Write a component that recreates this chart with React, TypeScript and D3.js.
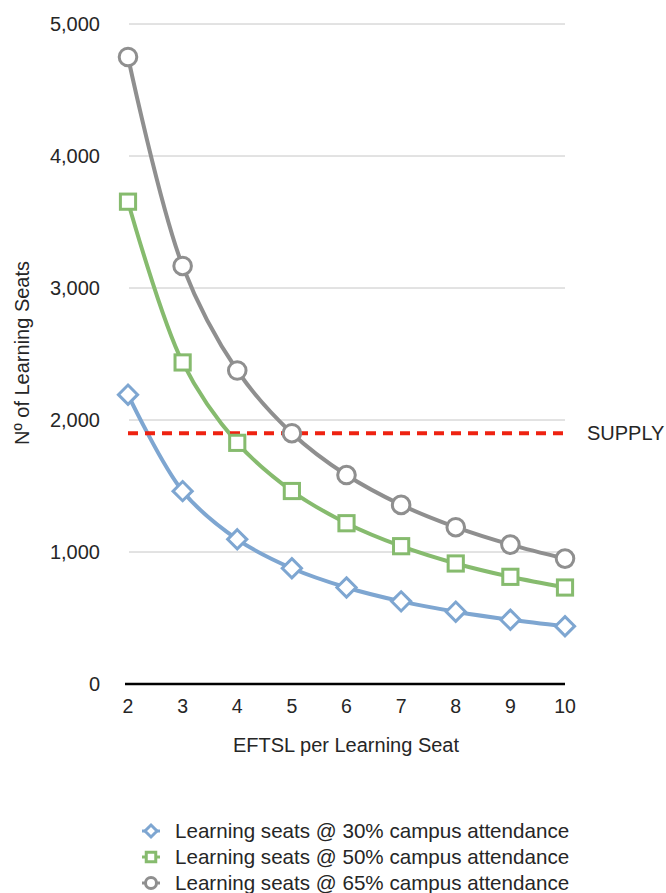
import React from "react";
import * as d3 from "d3";

const xValues = [2, 3, 4, 5, 6, 7, 8, 9, 10];
const seats30 = [2192, 1461, 1096, 877, 731, 626, 548, 487, 438];
const seats50 = [3654, 2436, 1827, 1462, 1218, 1044, 913, 812, 731];
const seats65 = [4750, 3167, 2375, 1900, 1583, 1357, 1188, 1056, 950];
const supplyValue = 1900;
const yTicks = [0, 1000, 2000, 3000, 4000, 5000];
const seriesNames = [
  "Learning seats @ 30% campus attendance",
  "Learning seats @ 50% campus attendance",
  "Learning seats @ 65% campus attendance",
];
const colors = ["#7ea6d1", "#86bb6e", "#8f8f8f"];
const shapes = ["diamond", "square", "circle"];

const FONT = "'Liberation Sans', Arial, Helvetica, sans-serif";
const TEXT = "#262626";

function Marker({ shape, x, y, color, s }: { shape: string; x: number; y: number; color: string; s: number }) {
  if (shape === "diamond") {
    const r = s * 1.2;
    return (
      <path
        d={`M${x},${y - r}L${x + r},${y}L${x},${y + r}L${x - r},${y}Z`}
        fill="#fff"
        stroke={color}
        strokeWidth={3}
      />
    );
  }
  if (shape === "square") {
    const q = s * 0.95;
    return <rect x={x - q} y={y - q} width={2 * q} height={2 * q} fill="#fff" stroke={color} strokeWidth={3} />;
  }
  return <circle cx={x} cy={y} r={s * 1.1} fill="#fff" stroke={color} strokeWidth={3} />;
}

export default function App() {
  const width = 666;
  const height = 893;
  const x = d3.scaleLinear().domain([2, 10]).range([128, 565]);
  const y = d3.scaleLinear().domain([0, 5000]).range([684, 24]);
  const series = [seats30, seats50, seats65];
  const line = d3
    .line<number>()
    .x((_, i) => x(xValues[i]))
    .y((d) => y(d))
    .curve(d3.curveCatmullRom.alpha(0.5));

  return (
    <svg width={width} height={height} style={{ position: "absolute", left: 0, top: 0 }} fontFamily={FONT}>
      {yTicks.map((t) => (
        <g key={t}>
          {t > 0 && <line x1={129} x2={565} y1={y(t)} y2={y(t)} stroke="#c6c6c6" strokeWidth={1} />}
          <text x={100} y={y(t)} dy="0.35em" textAnchor="end" fontSize={20} fill={TEXT}>
            {d3.format(",")(t)}
          </text>
        </g>
      ))}
      <line x1={125} x2={565} y1={y(0)} y2={y(0)} stroke="#000" strokeWidth={2.5} />
      {xValues.map((v) => (
        <text key={v} x={x(v)} y={713} textAnchor="middle" fontSize={19.5} fill={TEXT}>
          {v}
        </text>
      ))}
      <text x={346} y={752} textAnchor="middle" fontSize={20} fill={TEXT}>
        EFTSL per Learning Seat
      </text>
      <text
        transform={`translate(29,${353}) rotate(-90)`}
        textAnchor="middle"
        fontSize={20}
        fill={TEXT}
      >
        Nº of Learning Seats
      </text>
      {series.map((s, k) => (
        <path key={k} d={line(s) || ""} fill="none" stroke={colors[k]} strokeWidth={4} />
      ))}
      <line
        x1={x(2)}
        x2={x(10)}
        y1={y(supplyValue)}
        y2={y(supplyValue)}
        stroke="#ee2211"
        strokeWidth={4}
        strokeDasharray="10 7"
      />
      <text x={587} y={y(supplyValue)} dy="0.35em" fontSize={20} fill={TEXT}>
        SUPPLY
      </text>
      {series.map((s, k) =>
        s.map((v, i) => (
          <Marker key={`${k}-${i}`} shape={shapes[k]} x={x(xValues[i])} y={y(v)} color={colors[k]} s={8} />
        ))
      )}
      {seriesNames.map((name, k) => {
        const ly = 831 + k * 26;
        return (
          <g key={name}>
            <line x1={142} x2={160} y1={ly} y2={ly} stroke={colors[k]} strokeWidth={3} />
            <Marker shape={shapes[k]} x={151} y={ly} color={colors[k]} s={5} />
            <text x={175} y={ly} dy="0.35em" fontSize={20.6} fill={TEXT}>
              {name}
            </text>
          </g>
        );
      })}
    </svg>
  );
}
